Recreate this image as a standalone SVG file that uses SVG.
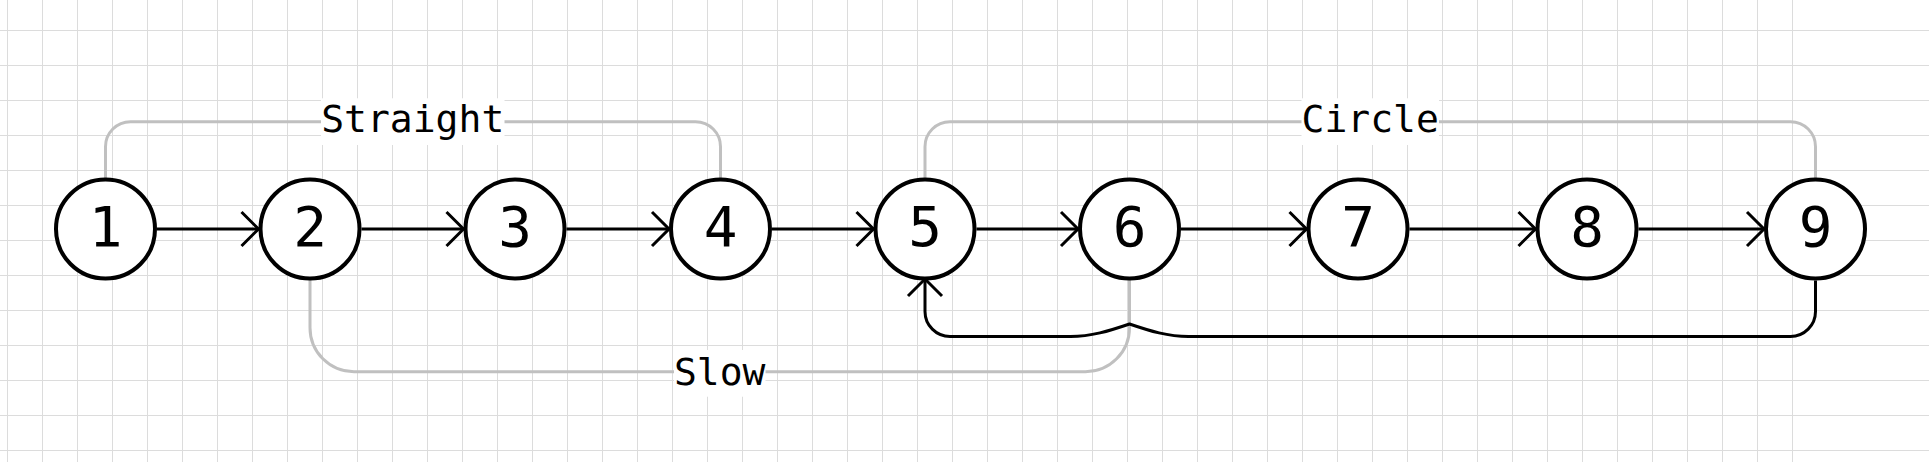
<svg xmlns="http://www.w3.org/2000/svg" width="1929" height="462" viewBox="0 0 1929 462">
<style>
.grid{stroke:#dcdcdc;stroke-width:1;fill:none}
.node circle{fill:#fff;stroke:#000;stroke-width:4}
.node text{font-family:"DejaVu Sans Mono","Liberation Mono",monospace;font-size:56px;text-anchor:middle;fill:#000}
.edge{fill:none;stroke:#000;stroke-width:3}
.ghost{fill:none;stroke:#c0c0c0;stroke-width:3}
.lbl rect{fill:#fff}
.lbl text{font-family:"DejaVu Sans Mono","Liberation Mono",monospace;font-size:38px;text-anchor:middle;fill:#000}
</style>
<defs>
<marker id="arr" markerUnits="userSpaceOnUse" viewBox="0 0 40 40" markerWidth="40" markerHeight="40" refX="20" refY="20" orient="auto">
<path d="M3 3L20 20L3 37" fill="none" stroke="#000" stroke-width="3"/>
</marker>
</defs>
<rect width="1929" height="462" fill="#fff"/>
<path class="grid" d="M7.5 0v462m35-462v462m35-462v462m35-462v462m35-462v462m35-462v462m35-462v462m35-462v462m35-462v462m35-462v462m35-462v462m35-462v462m35-462v462m35-462v462m35-462v462m35-462v462m35-462v462m35-462v462m35-462v462m35-462v462m35-462v462m35-462v462m35-462v462m35-462v462m35-462v462m35-462v462m35-462v462m35-462v462m35-462v462m35-462v462m35-462v462m35-462v462m35-462v462m35-462v462m35-462v462m35-462v462m35-462v462m35-462v462m35-462v462m35-462v462m35-462v462m35-462v462m35-462v462m35-462v462m35-462v462m35-462v462m35-462v462m35-462v462m35-462v462m35-462v462m35-462v462m35-462v462M0 30.5h1929M0 65.5h1929M0 100.5h1929M0 135.5h1929M0 170.5h1929M0 205.5h1929M0 240.5h1929M0 275.5h1929M0 310.5h1929M0 345.5h1929M0 380.5h1929M0 415.5h1929M0 450.5h1929"/>
<g id="connectors">
<path class="ghost" d="M105.5 178V146.7A25 25 0 0 1 130.5 121.7H695.5A25 25 0 0 1 720.5 146.7V178"/>
<path class="ghost" d="M925 178V146.7A25 25 0 0 1 950 121.7H1790.5A25 25 0 0 1 1815.5 146.7V178"/>
<path class="ghost" d="M310 280V327.7A44 44 0 0 0 354 371.7H1085.5A44 44 0 0 0 1129.5 327.7V280"/>
<path class="edge" marker-end="url(#arr)" d="M157 229H258.5"/>
<path class="edge" marker-end="url(#arr)" d="M361.5 229H463.5"/>
<path class="edge" marker-end="url(#arr)" d="M566.5 229H669"/>
<path class="edge" marker-end="url(#arr)" d="M772 229H873.5"/>
<path class="edge" marker-end="url(#arr)" d="M976.5 229H1078"/>
<path class="edge" marker-end="url(#arr)" d="M1181 229H1306.5"/>
<path class="edge" marker-end="url(#arr)" d="M1409.5 229H1535.5"/>
<path class="edge" marker-end="url(#arr)" d="M1638.5 229H1764"/>
<path class="edge" marker-end="url(#arr)" d="M1815.5 280.5V311.5A25 25 0 0 1 1790.5 336.5H1188.5C1168 336.5 1150 331 1129.5 324C1109 331 1091 336.5 1070.5 336.5H950A25 25 0 0 1 925 311.5V279"/>
</g>
<g class="lbl" id="label-straight"><rect x="321" y="98.3" width="183.5" height="46.7"/><text x="412.75" y="131.7">Straight</text></g>
<g class="lbl" id="label-circle"><rect x="1301.5" y="98.3" width="137.5" height="46.7"/><text x="1370.25" y="131.7">Circle</text></g>
<g class="lbl" id="label-slow"><rect x="674" y="350" width="91.5" height="46.7"/><text x="719.75" y="385">Slow</text></g>
<g class="node" id="node-1"><circle cx="105.5" cy="229" r="49.5"/><text x="105.5" y="246">1</text></g>
<g class="node" id="node-2"><circle cx="310" cy="229" r="49.5"/><text x="310" y="246">2</text></g>
<g class="node" id="node-3"><circle cx="515" cy="229" r="49.5"/><text x="515" y="246">3</text></g>
<g class="node" id="node-4"><circle cx="720.5" cy="229" r="49.5"/><text x="720.5" y="246">4</text></g>
<g class="node" id="node-5"><circle cx="925" cy="229" r="49.5"/><text x="925" y="246">5</text></g>
<g class="node" id="node-6"><circle cx="1129.5" cy="229" r="49.5"/><text x="1129.5" y="246">6</text></g>
<g class="node" id="node-7"><circle cx="1358" cy="229" r="49.5"/><text x="1358" y="246">7</text></g>
<g class="node" id="node-8"><circle cx="1587" cy="229" r="49.5"/><text x="1587" y="246">8</text></g>
<g class="node" id="node-9"><circle cx="1815.5" cy="229" r="49.5"/><text x="1815.5" y="246">9</text></g>
</svg>
